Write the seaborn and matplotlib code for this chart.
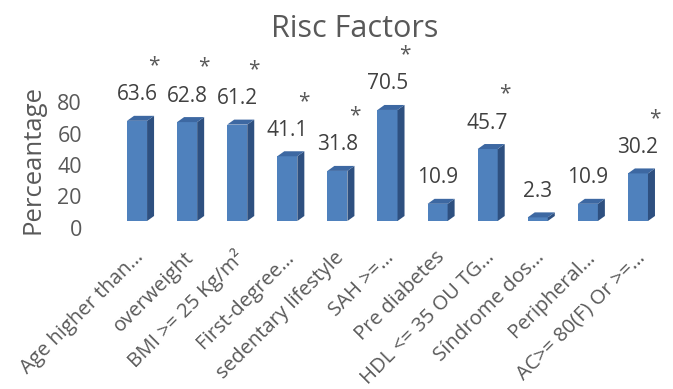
import matplotlib
matplotlib.use("Agg")
import matplotlib.pyplot as plt
import matplotlib.transforms as mtransforms
from matplotlib.patches import Polygon
import seaborn as sns
import pandas as pd

categories = [
    "Age higher than…", "overweight", "BMI >= 25 Kg/m²", "First-degree…",
    "sedentary lifestyle", "SAH >=…", "Pre diabetes", "HDL <= 35 OU TG…",
    "Síndrome dos…", "Peripheral…", "AC>= 80(F) Or >=…",
]
values = [63.6, 62.8, 61.2, 41.1, 31.8, 70.5, 10.9, 45.7, 2.3, 10.9, 30.2]
significant = [True, True, True, True, True, True, False, True, False, False, True]
y_ticks = [0, 20, 40, 60, 80]

FRONT = "#4F81BD"
SIDE = "#2E5080"
TOP = "#3D68A2"
TEXT = "#595959"
LABEL = "#404040"

sns.set_theme(style="white")
plt.rcParams["font.family"] = ["Open Sans", "DejaVu Sans"]

W, H, DPI = 673, 389, 100
fig = plt.figure(figsize=(W / DPI, H / DPI), dpi=DPI)
ax = fig.add_axes([112 / W, (H - 228) / H, 551 / W, 157.5 / H])

df = pd.DataFrame({"factor": categories, "value": values})
sns.barplot(data=df, x="factor", y="value", color=FRONT, saturation=1,
            width=0.4, ax=ax)

ax.set_xlim(-0.5, len(categories) - 0.5)
ax.set_ylim(0, 100)
ax.set_yticks(y_ticks)
sns.despine(ax=ax, left=True, bottom=True)
ax.tick_params(axis="both", length=0, colors=TEXT)
ax.tick_params(axis="y", pad=21.6, labelsize=15.5)
ax.tick_params(axis="x", pad=19, labelsize=14.6)

# pseudo-3D depth: lift the front faces and add side / top faces
lift = mtransforms.ScaledTranslation(0, 7 / DPI, fig.dpi_scale_trans)
depth_x, depth_y = 7, 5  # pixels
p0 = ax.transData.transform((0, 0))
p1 = ax.transData.transform((1, 1))
ux = depth_x / (p1[0] - p0[0])
uy = depth_y / (p1[1] - p0[1])
for patch in ax.patches[:len(values)]:
    patch.set_transform(ax.transData + lift)
    patch.set_edgecolor("none")
    x0, w, h = patch.get_x(), patch.get_width(), patch.get_height()
    side = Polygon([(x0 + w, 0), (x0 + w + ux, uy), (x0 + w + ux, h + uy), (x0 + w, h)],
                   closed=True, facecolor=SIDE, edgecolor="none",
                   transform=ax.transData + lift, clip_on=False)
    top = Polygon([(x0, h), (x0 + ux, h + uy), (x0 + w + ux, h + uy), (x0 + w, h)],
                  closed=True, facecolor=TOP, edgecolor="none",
                  transform=ax.transData + lift, clip_on=False)
    ax.add_patch(side)
    ax.add_patch(top)

# value labels and significance marks
for i, (v, sig) in enumerate(zip(values, significant)):
    ax.annotate(f"{v:.1f}", xy=(i, v), xytext=(0, 33), textcoords="offset pixels",
                ha="center", va="center", fontsize=15, color=LABEL,
                annotation_clip=False)
    if sig:
        ax.annotate("*", xy=(i, v), xytext=(17, 62), textcoords="offset pixels",
                    ha="center", va="center", fontsize=15, color=TEXT,
                    annotation_clip=False)

# rotated category labels
shift = mtransforms.ScaledTranslation(4 / DPI, 0, fig.dpi_scale_trans)
for lbl in ax.get_xticklabels():
    lbl.set_rotation(45)
    lbl.set_ha("right")
    lbl.set_va("center")
    lbl.set_rotation_mode("anchor")
    lbl.set_transform(lbl.get_transform() + shift)
ax.set_xlabel("")

ax.set_ylabel("Perceantage", fontsize=18.5, color=TEXT, va="center")
ax.yaxis.set_label_coords(33 / W, (H - 159) / H, transform=fig.transFigure)

fig.text(355 / W, (H - 37) / H, "Risc Factors", ha="center", va="baseline",
         fontsize=22, color=TEXT)

fig.savefig("out.png", dpi=DPI)
